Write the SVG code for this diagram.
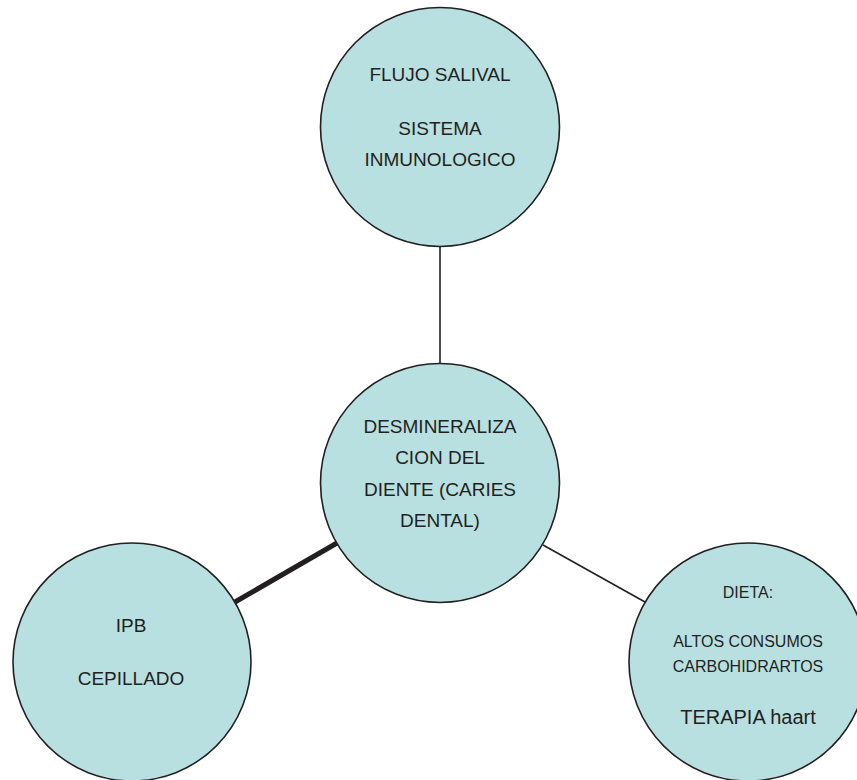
<svg xmlns="http://www.w3.org/2000/svg" width="857" height="780" viewBox="0 0 857 780">
<style>
.node{fill:#b9e0e1;stroke:#231f20;stroke-width:1.6}
.t{font-family:"Liberation Sans",Arial,sans-serif;font-size:19px;fill:#231f20;text-anchor:middle}
.s{font-size:16px}
.l{font-size:20px}
.c{stroke:#231f20;fill:none}
</style>
<rect width="857" height="780" fill="#ffffff"/>
<g id="connectors">
<line class="c" x1="440" y1="246" x2="440" y2="364" stroke-width="1.6"/>
<line class="c" x1="235" y1="602" x2="337" y2="543" stroke-width="5"/>
<line class="c" x1="543" y1="545" x2="645" y2="602" stroke-width="1.6"/>
</g>
<g id="top">
<circle class="node" cx="440" cy="127" r="119.5"/>
<text class="t" x="440" y="81">FLUJO SALIVAL</text>
<text class="t" x="440" y="135">SISTEMA</text>
<text class="t" x="440" y="166">INMUNOLOGICO</text>
</g>
<g id="center">
<circle class="node" cx="440" cy="483" r="119.5"/>
<text class="t" x="440" y="433">DESMINERALIZA</text>
<text class="t" x="440" y="464">CION DEL</text>
<text class="t" x="440" y="496">DIENTE (CARIES</text>
<text class="t" x="440" y="527">DENTAL)</text>
</g>
<g id="left">
<circle class="node" cx="132" cy="662" r="119"/>
<text class="t" x="131" y="632">IPB</text>
<text class="t" x="131" y="685">CEPILLADO</text>
</g>
<g id="right">
<circle class="node" cx="748" cy="662" r="119"/>
<text class="t s" x="748" y="598">DIETA:</text>
<text class="t s" x="748" y="647">ALTOS CONSUMOS</text>
<text class="t s" x="748" y="672">CARBOHIDRARTOS</text>
<text class="t l" x="748" y="724">TERAPIA haart</text>
</g>
</svg>
